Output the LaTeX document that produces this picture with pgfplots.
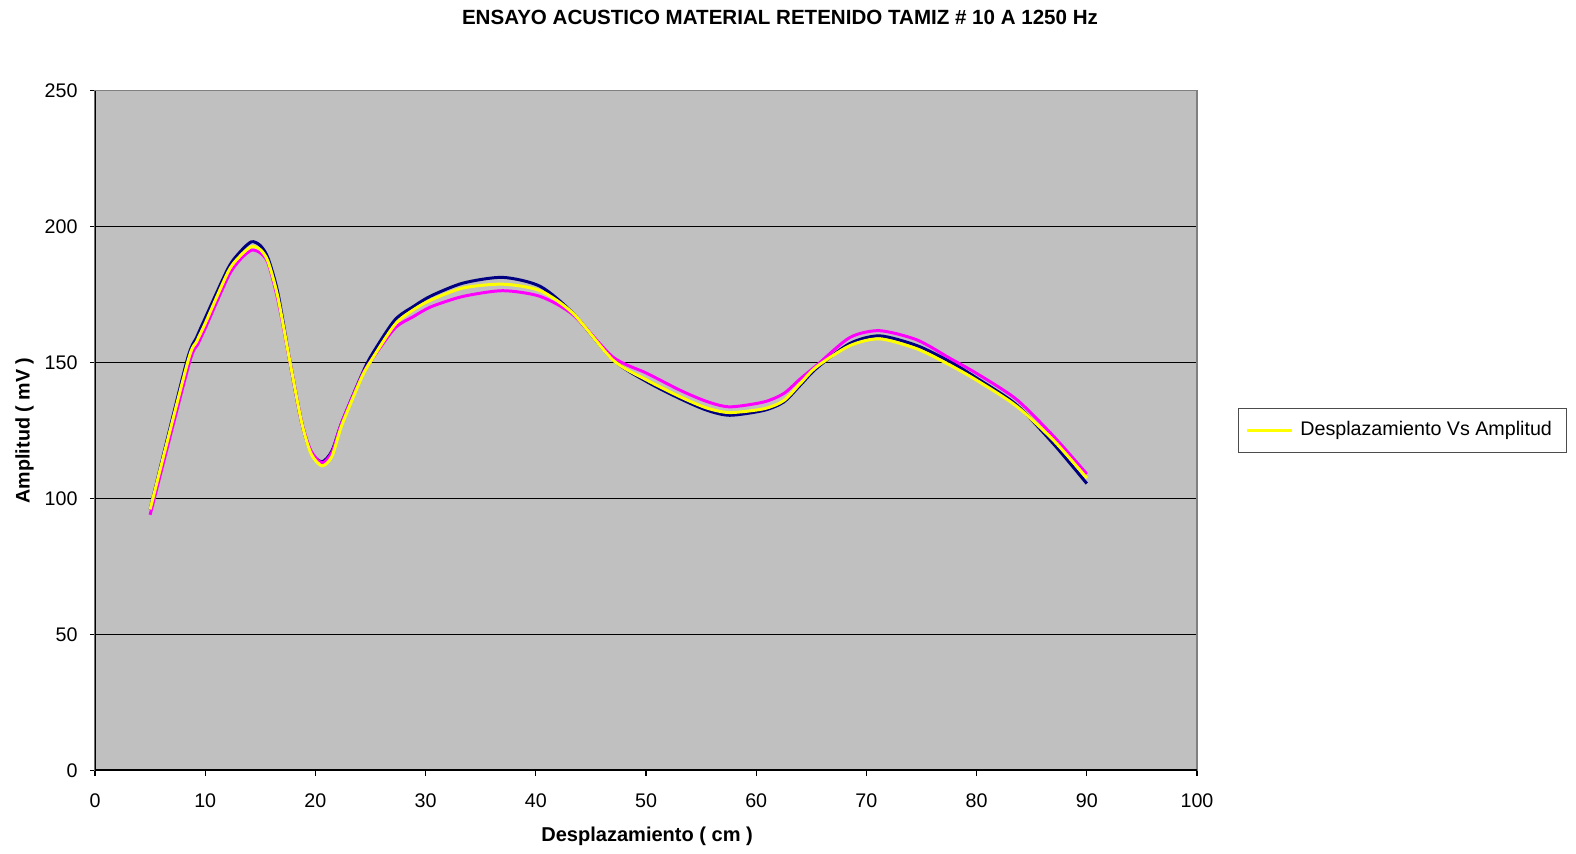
\documentclass[border=0pt]{standalone}
\usepackage{fontspec}
\setmainfont{Liberation Sans}
\usepackage{pgfplots}
\pgfplotsset{compat=1.18}
\definecolor{plotgray}{RGB}{192,192,192}
\definecolor{navyline}{RGB}{0,0,128}
\definecolor{magline}{RGB}{255,0,255}
\definecolor{yelline}{RGB}{255,255,0}
\newcommand{\chartfont}{\fontsize{5.6}{6.7}\selectfont}
\begin{document}
\begin{tikzpicture}
\useasboundingbox (0,0) rectangle (15.76,8.53);
\node[font=\fontsize{5.85}{7}\selectfont\bfseries] at (7.80,8.36) {ENSAYO ACUSTICO MATERIAL RETENIDO TAMIZ \# 10 A 1250 Hz};
\begin{axis}[
  at={(0.95cm,0.825cm)}, anchor=south west,
  scale only axis, width=11.02cm, height=6.80cm,
  xmin=0, xmax=100, ymin=0, ymax=250,
  xtick={0,10,...,100}, ytick={0,50,...,250},
  xtick pos=bottom, ytick pos=left,
  tick align=outside, major tick length=0.5mm,
  tick style={black, line width=0.3pt},
  axis background/.style={fill=plotgray},
  axis line style={draw=gray, line width=0.4pt},
  ymajorgrids, major grid style={black, line width=0.35pt},
  ticklabel style={font=\chartfont},
  xticklabel style={yshift=-0.55mm},
  /pgf/number format/assume math mode=true,
  xlabel={\bfseries Desplazamiento ( cm )},
  ylabel={\bfseries Amplitud ( mV )},
  label style={font=\chartfont},
  xlabel style={at={(axis description cs:0.501,-0.0965)}, anchor=center, font=\fontsize{5.7}{6.8}\selectfont},
  ylabel style={at={(axis description cs:-0.064,0.5)}, anchor=center},
  legend style={at={(1.037,0.5)}, anchor=west, font=\chartfont, draw=black!70, line width=0.3pt,
    inner xsep=2pt, inner ysep=1.5pt, cells={anchor=west}},
  legend image code/.code={\draw[#1, line width=0.85pt] (0cm,0cm) -- (0.45cm,0cm);},
  every axis plot/.append style={line width=0.85pt, smooth, tension=0.45},
]
% navy series
\addplot[navyline, forget plot] coordinates {
(5,96) (8.3,150) (9.2,159) (10,166.3) (12.1,184.8) (13.2,190.8) (14.2,194.4) (15,193) (15.7,188.4)
(16.6,175.5) (17.7,150) (18.75,128) (19.6,117) (20.6,113.5) (21.5,117.5) (22.4,128)
(24.2,145.4) (25.1,152.7) (27.2,165.6) (28.9,170.6) (30.5,174.5) (33.4,179.2) (37,181.3)
(40.4,178) (43.4,168) (47,151) (50.1,142.9) (53.1,136.7) (55.5,132.5) (57.6,130.6) (60.7,132.4)
(62.5,135.5) (64,141.7) (65.5,148) (68.5,157) (71.2,159.8) (74.6,156.2) (77.6,150.3)
(80,144.3) (83.6,134.5) (87,120) (90,105.5)};
% magenta series
\addplot[magline, forget plot] coordinates {
(5,94) (8.5,149) (9.3,156.5) (10,162.6) (12.1,181.7) (13.2,188) (14.2,191.3) (15,190.3) (15.7,186.6)
(16.6,173) (17.7,150) (18.75,128) (19.6,117.5) (20.6,113.1) (21.5,117) (22.4,128)
(24.2,145) (25.1,151) (27.2,162.6) (28.9,166.9) (30.5,170.5) (33.4,174.3) (37,176.4)
(40.4,174.3) (43.4,167.5) (47,152) (50.1,146) (53.1,139.8) (55.5,135.7) (57.6,133.7) (60.7,135.5)
(62.5,138.6) (64,144) (65.5,149) (68.5,159.2) (71.2,161.7) (74.6,158.3) (77.6,151.5)
(80,146) (83.6,136.5) (87,122.8) (90,109)};
% yellow series
\addplot[yelline] coordinates {
(5,96) (8.4,150) (9.2,157.5) (10,164.4) (12.1,183.5) (13.2,189.3) (14.2,192.6) (15,191.5) (15.7,187.2)
(16.6,174) (17.7,150) (18.75,128) (19.6,116.5) (20.6,112) (21.5,115.5) (22.4,127)
(24.2,144.5) (25.1,151) (27.2,163.9) (28.9,169.4) (30.5,173) (33.4,177.4) (37,178.8)
(40.4,176.4) (43.4,168) (47,150.9) (50.1,143.5) (53.1,137.4) (55.5,133.3) (57.6,131.6) (60.7,133)
(62.5,136) (64,142.3) (65.5,148.5) (68.5,156.2) (71.2,158.7) (74.6,155) (77.6,149)
(80,143.5) (83.6,134) (87,121.3) (90,107.5)};
\addlegendentry{Desplazamiento Vs Amplitud}
% darker axis lines on the left and bottom
\draw[black, line width=0.6pt] (rel axis cs:0,1) -- (rel axis cs:0,0) -- (rel axis cs:1,0);
\end{axis}
\end{tikzpicture}
\end{document}
